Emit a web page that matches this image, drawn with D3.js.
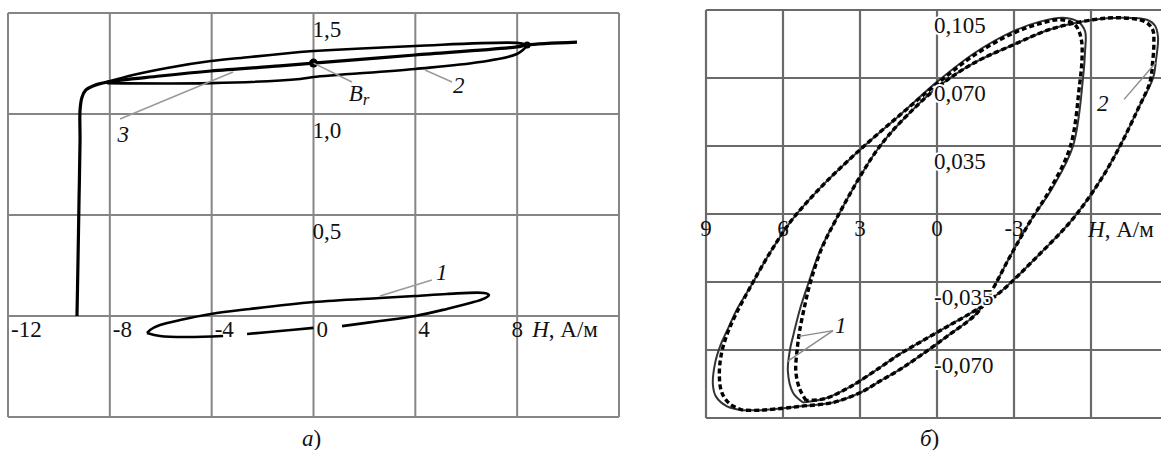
<!DOCTYPE html>
<html>
<head>
<meta charset="utf-8">
<script src="https://cdn.jsdelivr.net/npm/d3@7"></script>
<style>
  html, body { margin: 0; padding: 0; background: #fff; }
  svg { display: block; }
  text { font-family: "Liberation Serif", "Times New Roman", serif; font-size: 23px; fill: #111; }
</style>
</head>
<body>
<div id="chart"></div>
<script>
// ---- panel a) : H in A/m, B in T ----
const gridHA = [-12, -8, -4, 0, 4, 8, 12];
const gridBA = [-0.5, 0, 0.5, 1.0, 1.5];
const tickHA = [-12, -8, -4, 0, 4, 8];
const tickBA = [1.5, 1.0, 0.5];

// curve 3: initial magnetisation rise + middle line through Br
const curve3A = [[-9.29, 0.0], [-9.25, 0.277], [-9.21, 0.574], [-9.17, 0.871], [-9.17, 1.02],
  [-9.09, 1.084], [-8.94, 1.119], [-8.66, 1.139], [-8.11, 1.158], [-6.03, 1.188], [-4.03, 1.213],
  [-1.32, 1.238], [0, 1.252], [3.99, 1.292], [7.99, 1.332], [8.39, 1.342], [10.35, 1.356]];
// curve 2: loop, upper and lower branch
const curve2UpperA = [[-8.11, 1.158], [-7.09, 1.193], [-5.75, 1.228], [-4.03, 1.262], [-2.49, 1.282],
  [-0.53, 1.307], [0, 1.312], [3.99, 1.337], [7.99, 1.352], [8.39, 1.342]];
const curve2LowerA = [[-8.11, 1.153], [-4.03, 1.153], [-0.53, 1.173], [0, 1.183], [3.99, 1.223],
  [6.54, 1.257], [7.99, 1.297], [8.39, 1.337]];
// curve 1: small loop (null = break behind the tick labels)
const curve1A = [[-6.54, -0.084], [-6.03, -0.099], [-4.97, -0.104], [-3.55, -0.099], null,
  [-2.61, -0.089], [-1.32, -0.074], [0, -0.059], null,
  [1.12, -0.05], [2.61, -0.025], [3.99, 0.0], [5.24, 0.035], [6.15, 0.064], [6.74, 0.089],
  [6.89, 0.104], [6.7, 0.114], [5.24, 0.109], [3.99, 0.099], [2.61, 0.089], [0, 0.069],
  [-2.49, 0.035], [-4.03, 0.01], [-5.24, -0.02], [-6.03, -0.045], [-6.42, -0.069], [-6.54, -0.084]];
const brPointA = [0, 1.252];
const leadersA = [
  { from: [2.61, 0.099], to: [4.65, 0.178], at: [4.81, 0.178], text: "1" },
  { from: [4.38, 1.218], to: [5.44, 1.158], at: [5.48, 1.104], text: "2" },
  { from: [-3.16, 1.208], to: [-7.6, 0.975], at: [-7.7, 0.86], text: "3" },
  { from: [0, 1.252], to: [1.51, 1.158], at: [1.38, 1.063], text: "B" }
];

// ---- panel б) ----
const gridHB = [9, 6, 3, 0, -3, -6];
const gridBB = [0.105, 0.07, 0.035, 0, -0.035, -0.07, -0.105];
const tickHB = [9, 6, 3, 0, -3];
const tickBB = [0.105, 0.07, 0.035, -0.035, -0.07];

const loopLSolid = [[7.56, -0.101], [8.18, -0.099], [8.61, -0.094], [8.73, -0.088], [8.65, -0.077],
  [8.42, -0.067], [8.18, -0.06], [7.75, -0.048], [7.29, -0.038], [6.51, -0.02], [5.65, -0.003],
  [4.36, 0.016], [2.92, 0.034], [1.44, 0.051], [0.0, 0.068], [-1.48, 0.083], [-2.96, 0.094],
  [-4.01, 0.099], [-4.91, 0.101], [-5.49, 0.099], [-5.77, 0.094], [-5.77, 0.084], [-5.69, 0.07],
  [-5.3, 0.035], [-4.48, 0.013], [-3.62, -0.004], [-2.84, -0.022], [-2.07, -0.041], [-1.56, -0.051],
  [-0.39, -0.063], [0.66, -0.073], [1.44, -0.08], [2.22, -0.086], [3.0, -0.092], [4.05, -0.097],
  [5.34, -0.099], [6.0, -0.1], [6.9, -0.101], [7.56, -0.101]];
const loopLDashed = [[7.56, -0.101], [8.05, -0.098], [8.38, -0.092], [8.48, -0.083], [8.4, -0.072],
  [8.18, -0.062], [7.85, -0.052], [7.29, -0.038], [6.51, -0.02], [5.65, -0.003], [4.36, 0.016],
  [2.92, 0.034], [1.44, 0.051], [0.0, 0.067], [-1.48, 0.082], [-2.96, 0.093], [-4.01, 0.098],
  [-4.85, 0.1], [-5.4, 0.097], [-5.62, 0.09], [-5.65, 0.08], [-5.55, 0.066], [-5.2, 0.035],
  [-4.42, 0.013], [-3.62, -0.004], [-2.84, -0.022], [-2.07, -0.041], [-1.56, -0.051], [-0.39, -0.063],
  [0.66, -0.073], [1.44, -0.08], [2.22, -0.086], [3.0, -0.092], [4.05, -0.097], [5.34, -0.099],
  [6.0, -0.1], [6.9, -0.101], [7.56, -0.101]];
const loopRSolid = [[5.22, -0.097], [5.61, -0.092], [5.81, -0.081], [5.73, -0.07], [5.61, -0.063],
  [5.34, -0.049], [5.07, -0.038], [4.56, -0.019], [3.9, -0.002], [2.92, 0.021], [2.22, 0.035],
  [1.44, 0.047], [0.0, 0.065], [-1.48, 0.078], [-2.96, 0.087], [-4.4, 0.095], [-6.08, 0.1],
  [-7.13, 0.101], [-8.18, 0.1], [-8.49, 0.097], [-8.61, 0.091], [-8.53, 0.079], [-8.42, 0.07],
  [-7.83, 0.054], [-7.13, 0.035], [-6.35, 0.017], [-5.26, -0.003], [-3.82, -0.023],
  [-2.57, -0.039], [-1.68, -0.048], [-0.39, -0.058], [0.66, -0.066], [1.44, -0.072], [2.22, -0.079],
  [3.39, -0.089], [4.36, -0.095], [5.22, -0.097]];
const loopRDashed = [[5.1, -0.096], [5.35, -0.09], [5.5, -0.081], [5.45, -0.07], [5.35, -0.06],
  [5.15, -0.047], [4.95, -0.036], [4.5, -0.018], [3.9, -0.002], [2.92, 0.021], [2.22, 0.035],
  [1.44, 0.047], [0.0, 0.065], [-1.48, 0.078], [-2.96, 0.087], [-4.4, 0.095], [-6.08, 0.1],
  [-7.13, 0.101], [-8.1, 0.099], [-8.4, 0.095], [-8.45, 0.088], [-8.4, 0.078], [-8.3, 0.068],
  [-7.83, 0.054], [-7.13, 0.035], [-6.35, 0.017], [-5.26, -0.003], [-3.82, -0.023],
  [-2.57, -0.039], [-1.68, -0.048], [-0.39, -0.058], [0.66, -0.066], [1.44, -0.072], [2.22, -0.079],
  [3.39, -0.089], [4.36, -0.095], [5.1, -0.096]];
const leadersB = [
  { from: [5.38, -0.063], to: [4.05, -0.06] },
  { from: [5.84, -0.076], to: [4.05, -0.06] },
  { from: [-8.53, 0.078], to: [-7.29, 0.059] }
];
const labelsB = [{ at: [3.97, -0.061], text: "1" }, { at: [-6.23, 0.053], text: "2" }];

const width = 1161, height = 450;
const svg = d3.select("#chart").append("svg").attr("width", width).attr("height", height);

const xA = d3.scaleLinear().domain([-12, 12]).range([8, 619]);
const yA = d3.scaleLinear().domain([-0.5, 1.5]).range([417, 13]);
const xB = d3.scaleLinear().domain([9, -6]).range([706, 1091]);
const yB = d3.scaleLinear().domain([0.105, -0.105]).range([10, 418]);

const smooth = d3.curveCatmullRom.alpha(0.5);
const lineA = d3.line().defined(d => d).x(d => xA(d[0])).y(d => yA(d[1])).curve(smooth);
const lineB = d3.line().x(d => xB(d[0])).y(d => yB(d[1])).curve(smooth);

// ---------- panel a ----------
const pa = svg.append("g");

pa.selectAll(".vgrid").data(gridHA).join("line")
  .attr("x1", d => xA(d)).attr("x2", d => xA(d))
  .attr("y1", yA(1.5)).attr("y2", yA(-0.5))
  .attr("stroke", "#858585").attr("stroke-width", 2);
pa.selectAll(".hgrid").data(gridBA).join("line")
  .attr("y1", d => yA(d)).attr("y2", d => yA(d))
  .attr("x1", xA(-12)).attr("x2", xA(12))
  .attr("stroke", "#858585").attr("stroke-width", 2);

pa.selectAll(".ylab").data(tickBA).join("text")
  .attr("x", xA(0) - 1).attr("y", d => yA(d) + 24)
  .text(d => d.toFixed(1).replace(".", ","));

pa.selectAll(".xlab").data(tickHA).join("text")
  .attr("x", (d, i) => i === tickHA.length - 1 ? xA(d) : xA(d) + 3)
  .attr("y", yA(0) + 21)
  .attr("text-anchor", (d, i) => i === tickHA.length - 1 ? "middle" : "start")
  .text(d => String(d));

const axisA = pa.append("text").attr("x", xA(8) + 15).attr("y", yA(0) + 21);
axisA.append("tspan").attr("font-style", "italic").text("H");
axisA.append("tspan").text(", А/м");

[curve2UpperA, curve2LowerA].forEach(c => {
  pa.append("path").attr("d", lineA(c)).attr("fill", "none")
    .attr("stroke", "#000").attr("stroke-width", 2.6);
});
pa.append("path").attr("d", lineA(curve3A)).attr("fill", "none")
  .attr("stroke", "#000").attr("stroke-width", 3.2).attr("stroke-linejoin", "round");
pa.append("path").attr("d", lineA(curve1A)).attr("fill", "none")
  .attr("stroke", "#000").attr("stroke-width", 2.6);

pa.append("circle").attr("cx", xA(brPointA[0])).attr("cy", yA(brPointA[1])).attr("r", 4.5).attr("fill", "#000");
pa.append("circle").attr("cx", xA(8.39)).attr("cy", yA(1.342)).attr("r", 3.5).attr("fill", "#000");

pa.selectAll(".leader").data(leadersA).join("line")
  .attr("x1", d => xA(d.from[0])).attr("y1", d => yA(d.from[1]))
  .attr("x2", d => xA(d.to[0])).attr("y2", d => yA(d.to[1]))
  .attr("stroke", "#9a9a9a").attr("stroke-width", 1.6);

leadersA.forEach(d => {
  const t = pa.append("text").attr("x", xA(d.at[0])).attr("y", yA(d.at[1])).attr("font-style", "italic");
  t.append("tspan").text(d.text);
  if (d.text === "B") {
    t.append("tspan").attr("dy", 4).attr("font-size", 17).text("r");
  }
});

const capA = svg.append("text").attr("x", 302).attr("y", 446);
capA.append("tspan").attr("font-style", "italic").text("а");
capA.append("tspan").text(")");

// ---------- panel б ----------
const pb = svg.append("g");

pb.selectAll(".vgrid").data(gridHB).join("line")
  .attr("x1", d => xB(d)).attr("x2", d => xB(d))
  .attr("y1", yB(0.105)).attr("y2", yB(-0.105))
  .attr("stroke", "#6a6a6a").attr("stroke-width", 2.2);
pb.selectAll(".hgrid").data(gridBB).join("line")
  .attr("y1", d => yB(d)).attr("y2", d => yB(d))
  .attr("x1", xB(9)).attr("x2", width)
  .attr("stroke", "#6a6a6a").attr("stroke-width", 2.2);

[loopLSolid, loopRSolid].forEach(c => {
  pb.append("path").attr("d", lineB(c)).attr("fill", "none")
    .attr("stroke", "#333").attr("stroke-width", 2);
});
[loopLDashed, loopRDashed].forEach(c => {
  pb.append("path").attr("d", lineB(c)).attr("fill", "none")
    .attr("stroke", "#000").attr("stroke-width", 3.4).attr("stroke-dasharray", "5,3");
});

pb.selectAll(".leader").data(leadersB).join("line")
  .attr("x1", d => xB(d.from[0])).attr("y1", d => yB(d.from[1]))
  .attr("x2", d => xB(d.to[0])).attr("y2", d => yB(d.to[1]))
  .attr("stroke", "#8a8a8a").attr("stroke-width", 1.4);

pb.selectAll(".lab").data(labelsB).join("text")
  .attr("x", d => xB(d.at[0])).attr("y", d => yB(d.at[1]))
  .attr("font-style", "italic").text(d => d.text);

pb.selectAll(".ylab").data(tickBB).join("text")
  .attr("x", xB(0) - 3).attr("y", d => yB(d) + 23)
  .attr("stroke", "#fff").attr("stroke-width", 4).attr("paint-order", "stroke")
  .text(d => d.toFixed(3).replace(".", ","));

pb.selectAll(".xlab").data(tickHB).join("text")
  .attr("x", d => xB(d)).attr("y", yB(0) + 22)
  .attr("text-anchor", "middle")
  .text(d => String(d));

const axisB = pb.append("text").attr("x", xB(-6) - 3).attr("y", yB(0) + 23);
axisB.append("tspan").attr("font-style", "italic").text("H");
axisB.append("tspan").text(", А/м");

const capB = svg.append("text").attr("x", 920).attr("y", 446);
capB.append("tspan").attr("font-style", "italic").text("б");
capB.append("tspan").text(")");
</script>
</body>
</html>
